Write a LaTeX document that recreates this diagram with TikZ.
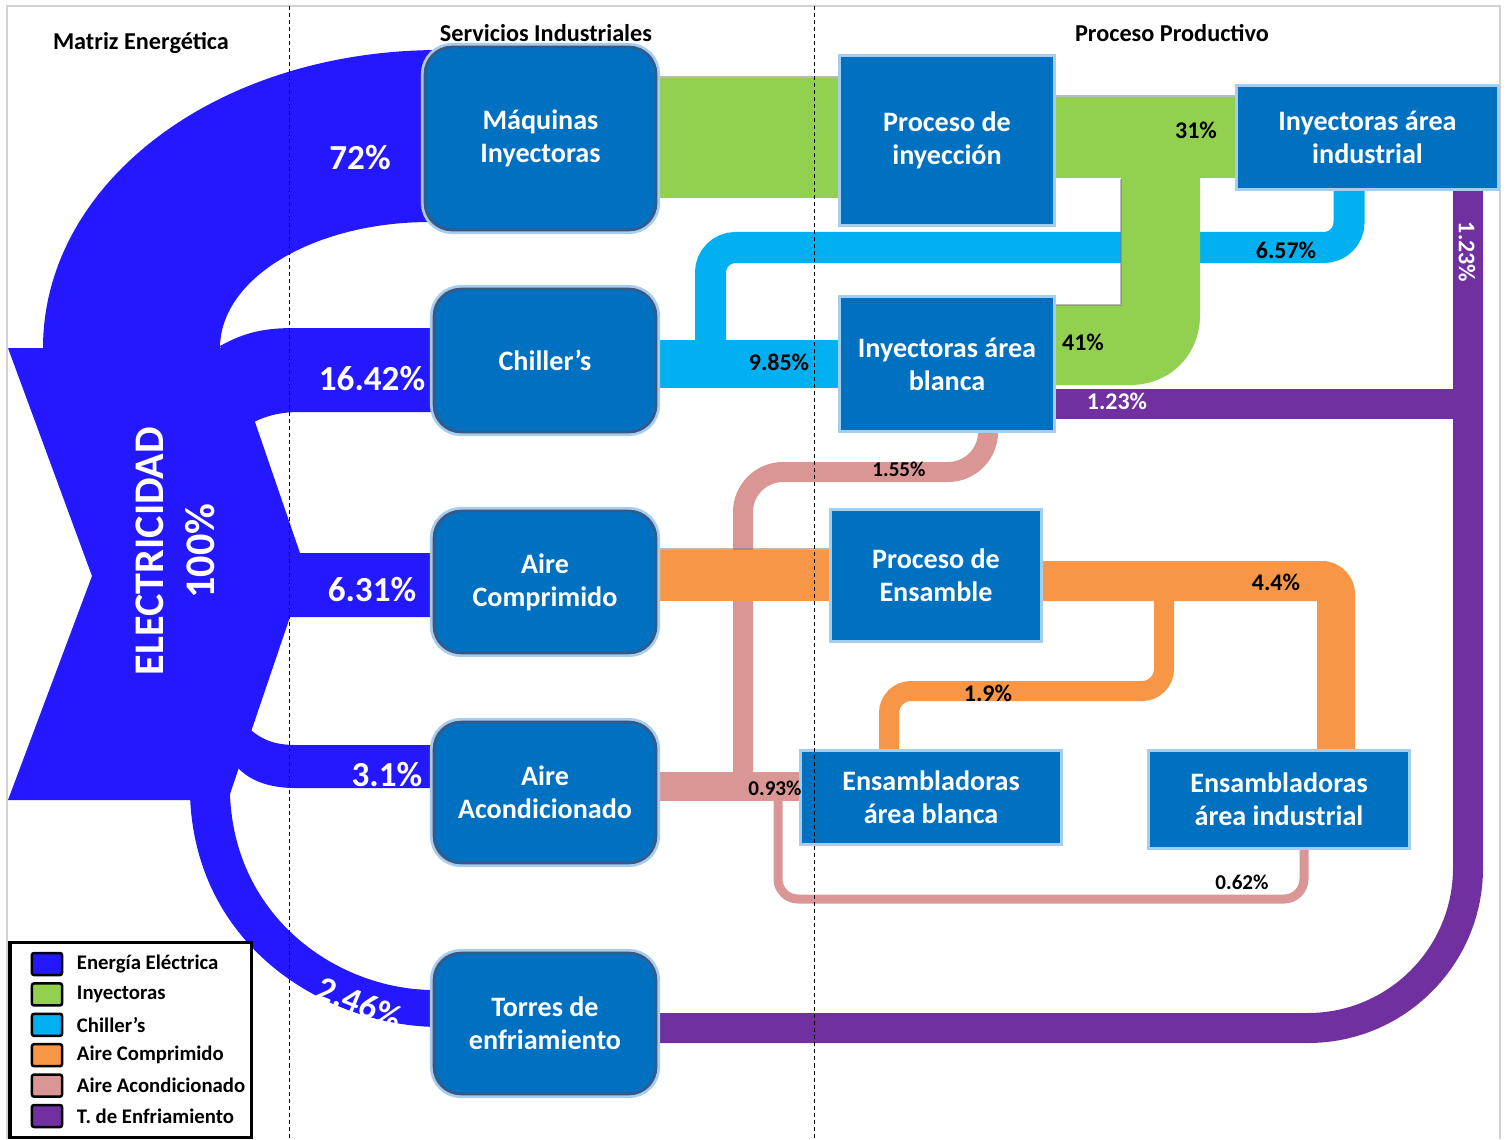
\documentclass[tikz,border=0pt]{standalone}
\usepackage{fontspec}
\setmainfont{Carlito}
\usetikzlibrary{positioning}
\definecolor{cElec}{RGB}{35,24,255}
\definecolor{cIny}{RGB}{146,208,80}
\definecolor{cChil}{RGB}{0,176,240}
\definecolor{cAirc}{RGB}{247,150,70}
\definecolor{cAira}{RGB}{218,150,148}
\definecolor{cTenf}{RGB}{112,48,160}
\definecolor{boxblue}{RGB}{0,112,192}
\definecolor{boxedge}{RGB}{60,88,130}
\definecolor{glowc}{RGB}{165,205,240}
\pgfdeclarelayer{flows}
\pgfsetlayers{flows,main}

\begin{document}
\begin{tikzpicture}[x=0.01cm, y=-0.01cm,
  svc/.style={fill=boxblue, draw=boxedge, line width=0.025cm, rounded corners=0.27cm,
    preaction={draw=glowc, line width=0.08cm}, text=white, align=center, inner sep=0pt,
    font=\bfseries\fontsize{8}{9.4}\selectfont},
  proc/.style={fill=boxblue, preaction={draw=glowc, line width=0.05cm}, text=white,
    align=center, inner sep=0pt, font=\bfseries\fontsize{8}{9.4}\selectfont},
  pct/.style={text=white, inner sep=0pt, font=\bfseries\fontsize{10}{12}\selectfont},
  val/.style={inner sep=0pt, font=\bfseries\fontsize{6.8}{8}\selectfont},
  sval/.style={inner sep=0pt, font=\bfseries\fontsize{6}{7}\selectfont},
  head/.style={inner sep=0pt, font=\bfseries\fontsize{6.9}{8}\selectfont},
  leg/.style={inner sep=0pt, anchor=west, font=\bfseries\fontsize{5.9}{7}\selectfont},
  swatch/.style={draw=black, line width=0.025cm, rounded corners=0.02cm,
    minimum width=0.3cm, minimum height=0.22cm, inner sep=0pt},
  shd/.style={draw=black!50, line width=0.02cm, opacity=0.55},
  sep/.style={line width=0.01cm, dash pattern=on 0.04cm off 0.03cm}]
\useasboundingbox (0,0) rectangle (1506,1139);
\draw[gray!35, line width=0.015cm] (7,1139) -- (7,6) -- (1500,6) -- (1500,1139);

% headers
\node[head] (hmat) at (141,43) {Matriz Energética};
\node[head] (hser) at (546,33) {Servicios Industriales};
\node[head] (hpro) at (1172,33) {Proceso Productivo};

% servicios
\node[svc, minimum width=2.31cm, minimum height=1.83cm] (maq) at (540.5,138.5) {Máquinas\\Inyectoras};
\node[svc, minimum width=2.22cm, minimum height=1.43cm] (chil) at (545,360.5) {Chiller’s};
\node[svc, minimum width=2.22cm, minimum height=1.42cm] (airc) at (545,582) {Aire\\Comprimido};
\node[svc, minimum width=2.22cm, minimum height=1.41cm] (aira) at (545,792.5) {Aire\\Acondicionado};
\node[svc, minimum width=2.22cm, minimum height=1.41cm] (torr) at (545,1023.5) {Torres de\\enfriamiento};

% proceso
\node[proc, minimum width=2.12cm, minimum height=1.67cm] (pinj) at (947,140.5) {Proceso de\\inyección};
\node[proc, minimum width=2.59cm, minimum height=1.01cm] (iind) at (1367.5,137.5) {Inyectoras área\\industrial};
\node[proc, minimum width=2.12cm, minimum height=1.32cm] (ibla) at (947,364) {Inyectoras área\\blanca};
\node[proc, minimum width=2.08cm, minimum height=1.29cm] (pens) at (936,575.5) {Proceso de\\Ensamble};
\node[proc, minimum width=2.58cm, minimum height=0.91cm] (ebla) at (931,797.5) {Ensambladoras\\área blanca};
\node[proc, minimum width=2.58cm, minimum height=0.95cm] (eind) at (1279,799.5) {Ensambladoras\\área industrial};

\begin{pgfonlayer}{flows}
% electricidad
\fill[cElec] (8,348) -- (92,576) -- (8,800) -- (228,800) -- (255,720) -- (290,617)
  -- (440,617) -- (440,553) -- (300,553) -- (255,422) -- (225,348) -- cycle;
\fill[cElec] (43,348) .. controls (43,183) and (216,50) .. (440,50) -- (440,222) -- (430,222)
  .. controls (314,222) and (220,278) .. (220,348) -- (220,352) -- (45,352) -- cycle;
\fill[cElec] (220,346) .. controls (245,332) and (265,328) .. (295,328) -- (440,328) -- (440,412)
  -- (300,412) .. controls (280,412) and (265,416) .. (252,423) -- cycle;
\fill[cElec] (240,718) .. controls (255,738) and (272,745) .. (295,745) -- (440,745) -- (440,788)
  -- (295,788) .. controls (262,788) and (243,776) .. (233,762) -- cycle;
\fill[cElec] (190,795) .. controls (195,950) and (330,1027) .. (440,1027) -- (440,990) -- (434,990)
  .. controls (340,990) and (235,920) .. (230,795) -- cycle;

% chiller's
\draw[cChil, line width=0.31cm, rounded corners=0.25cm] (710.5,350) -- (710.5,247.5) -- (1349,247.5) -- (1349,0 |- iind.south);
\fill[cChil] (chil.east |- 0,340) rectangle (ibla.west |- 0,388);

% inyectoras
\fill[cIny] (maq.east |- 0,78) rectangle (pinj.west |- 0,198);
\fill[cIny] (pinj.east |- 0,97) rectangle (iind.west |- 0,178);
\fill[cIny] (1121,175) -- (1121,305) -- (ibla.east |- 0,305) -- (ibla.east |- 0,385) -- (1130,385)
  .. controls (1170,385) and (1200,355) .. (1200,315) -- (1200,175) -- cycle;
\draw[shd] (maq.east |- 0,77) -- (pinj.west |- 0,77);
\draw[shd] (pinj.east |- 0,96) -- (iind.west |- 0,96);
\draw[shd] (1121,179) -- (1121,305) -- (ibla.east |- 0,305);

% aire acondicionado
\draw[cAira, line width=0.2cm, rounded corners=0.4cm] (743,780) -- (743,472) -- (988,472) -- (988,0 |- ibla.south);
\draw[cAira, line width=0.09cm, rounded corners=0.2cm] (778,795) -- (778,899) -- (1304,899) -- (1304,0 |- eind.south);
\fill[cAira] (aira.east |- 0,772) rectangle (ebla.west |- 0,801);

% aire comprimido
\fill[cAirc] (airc.east |- 0,550) rectangle (pens.west |- 0,601);
\draw[shd] (airc.east |- 0,549) -- (pens.west |- 0,549);
\fill[cAirc] (pens.east |- 0,561) -- (1322,561) .. controls (1340,561) and (1355,576) .. (1355,594)
  -- (1355,0 |- eind.north) -- (1317,0 |- eind.north) -- (1317,601) -- (pens.east |- 0,601) -- cycle;
\draw[cAirc, line width=0.2cm, rounded corners=0.22cm] (1164,595) -- (1164,691) -- (889,691) -- (889,0 |- ebla.north);

% torres de enfriamiento
\fill[cTenf] (ibla.east |- 0,389) rectangle (1468,419);
\draw[cTenf, line width=0.3cm, rounded corners=1.6cm] (torr.east |- 0,1028) -- (1468,1028) -- (1468,0 |- iind.south);
\end{pgfonlayer}

% porcentajes
\node[text=white, rotate=90, inner sep=0pt, font=\bfseries\fontsize{12}{14}\selectfont] (elec) at (150,551) {ELECTRICIDAD};
\node[text=white, rotate=90, inner sep=0pt, font=\bfseries\fontsize{12}{14}\selectfont] (etot) at (200,551) {100\%};
\node[pct] (p1) at (360,158) {72\%};
\node[pct] (p2) at (372,379) {16.42\%};
\node[pct] (p3) at (372,590) {6.31\%};
\node[pct] (p4) at (387,775) {3.1\%};
\node[pct, rotate=-22] (p5) at (360,1003) {2.46\%};
\node[val] (v1) at (1196,130) {31\%};
\node[val] (v2) at (1286,250) {6.57\%};
\node[val] (v3) at (779,362) {9.85\%};
\node[val] (v4) at (1083,342) {41\%};
\node[val, text=white] (v5) at (1117,401) {1.23\%};
\node[val, text=white, rotate=-90] (v6) at (1467,252) {1.23\%};
\node[sval] (v7) at (899,469) {1.55\%};
\node[val] (v8) at (1276,582) {4.4\%};
\node[val] (v9) at (988,693) {1.9\%};
\node[sval] (v10) at (775,788) {0.93\%};
\node[sval] (v11) at (1242,882) {0.62\%};

% divisiones
\draw[sep] (289,6) -- (289,1139);
\draw[sep] (814,6) -- (814,1139);

% leyenda
\draw[fill=white, line width=0.03cm] (10,942) rectangle (251,1137);
\foreach \c/\t [count=\i from 0] in {cElec/Energía Eléctrica, cIny/Inyectoras, cChil/Chiller’s,
    cAirc/Aire Comprimido, cAira/Aire Acondicionado, cTenf/T. de Enfriamiento}
{
  \node[swatch, fill=\c] (sw\i) at (47,964+30.4*\i) {};
  \node[leg, right=0.13cm of sw\i] (lt\i) {\t};
}
\end{tikzpicture}
\end{document}
